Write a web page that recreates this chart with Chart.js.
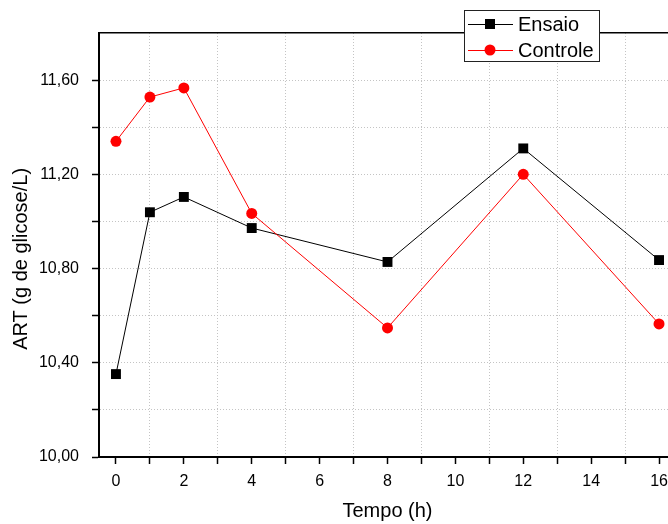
<!DOCTYPE html>
<html>
<head>
<meta charset="utf-8">
<script src="https://cdn.jsdelivr.net/npm/chart.js@4.4.0/dist/chart.umd.min.js"></script>
<style>
  html, body { margin: 0; padding: 0; background: #fff; overflow: hidden; }
  #wrap { position: absolute; left: 0; top: 0; width: 700px; height: 524px; }
</style>
</head>
<body>
<div id="wrap"><canvas id="grafico" width="700" height="524"></canvas></div>
<script>
// dados
const tempos = [0, 1, 2, 4, 8, 12, 16];
const ensaio = [10.352, 11.039, 11.104, 10.972, 10.828, 11.310, 10.836];
const controle = [11.340, 11.528, 11.567, 11.034, 10.548, 11.200, 10.565];
const nomes = ["Ensaio", "Controle"];
const ticksX = [0, 1, 2, 3, 4, 5, 6, 7, 8, 9, 10, 11, 12, 13, 14, 15, 16];

const fonte = "Arial, 'Liberation Sans', sans-serif";
const corGrade = "#c4c4c4";

function pontos(valores) {
  return tempos.map((t, i) => ({ x: t, y: valores[i] }));
}

// legenda no estilo do Origin (linha + marcador)
const legendaOrigin = {
  id: "legendaOrigin",
  afterDraw(chart) {
    const ctx = chart.ctx;
    const x0 = 464, y0 = 10, w = 135, h = 51;
    ctx.save();
    ctx.fillStyle = "#fff";
    ctx.fillRect(x0, y0, w, h);
    ctx.strokeStyle = "#222";
    ctx.lineWidth = 1;
    ctx.strokeRect(x0 + 0.5, y0 + 0.5, w, h);

    let ordem = [chart.data.datasets[1], chart.data.datasets[0]];
    ordem.forEach((ds, i) => {
      let y = y0 + 14 + i * 26;
      ctx.strokeStyle = ds.borderColor;
      ctx.lineWidth = 1;
      ctx.beginPath();
      ctx.moveTo(x0 + 4, y + 0.5);
      ctx.lineTo(x0 + 49, y + 0.5);
      ctx.stroke();
      ctx.fillStyle = ds.borderColor;
      if (ds.pointStyle === "rect") {
        ctx.fillRect(x0 + 21, y - 5, 10, 10);
      } else {
        ctx.beginPath();
        ctx.arc(x0 + 26, y, 5.5, 0, Math.PI * 2);
        ctx.fill();
      }
      ctx.fillStyle = "#000";
      ctx.font = "20px " + fonte;
      ctx.textBaseline = "middle";
      ctx.fillText(ds.label, x0 + 54, y + 1);
    });
    ctx.restore();
  },
};

const ctx = document.getElementById("grafico").getContext("2d");

new Chart(ctx, {
  type: "scatter",
  data: {
    datasets: [
      {
        label: nomes[1],
        data: pontos(controle),
        showLine: true,
        borderColor: "#ff0000",
        backgroundColor: "#ff0000",
        borderWidth: 1,
        pointStyle: "circle",
        pointRadius: 5.5,
        pointHoverRadius: 5.5,
        pointBorderWidth: 0,
        order: 0,
      },
      {
        label: nomes[0],
        data: pontos(ensaio),
        showLine: true,
        borderColor: "#000000",
        backgroundColor: "#000000",
        borderWidth: 1,
        pointStyle: "rect",
        pointRadius: 7,
        pointHoverRadius: 7,
        pointBorderWidth: 0,
        order: 1,
      },
    ],
  },
  options: {
    responsive: false,
    animation: false,
    devicePixelRatio: 1,
    layout: { padding: { left: 0, right: 24, top: 0, bottom: 0 } },
    plugins: {
      legend: { display: false },
      tooltip: { enabled: false },
    },
    scales: {
      x: {
        type: "linear",
        position: "bottom",
        min: -0.5,
        max: 16.5,
        afterFit: (s) => { s.height = 67; },
        afterBuildTicks: (s) => { s.ticks = ticksX.map((v) => ({ value: v })); },
        ticks: {
          autoSkip: false,
          maxRotation: 0,
          padding: 8,
          color: "#000",
          font: { family: fonte, size: 16 },
          callback: (v) => (Math.round(v) % 2 === 0 ? String(Math.round(v)) : ""),
        },
        grid: {
          color: (c) => (c.tick && Math.round(c.tick.value) % 2 !== 0 ? corGrade : "rgba(0,0,0,0)"),
          lineWidth: 1,
          tickColor: "#000",
          tickLength: 7,
          tickWidth: 1.5,
        },
        border: { display: true, color: "#000", width: 2, dash: [1, 2] },
        title: {
          display: true,
          text: "Tempo (h)",
          color: "#000",
          font: { family: fonte, size: 20 },
          padding: { top: 0, bottom: 1 },
        },
      },
      x2: {
        type: "linear",
        axis: "x",
        position: "top",
        min: -0.5,
        max: 16.5,
        afterFit: (s) => { s.height = 33; },
        ticks: { display: false },
        grid: { drawOnChartArea: false, drawTicks: false, color: "rgba(0,0,0,0)" },
        border: { display: true, color: "#000", width: 1.5 },
      },
      y: {
        type: "linear",
        position: "left",
        min: 10,
        max: 11.8,
        afterFit: (s) => { s.width = 99; },
        ticks: {
          stepSize: 0.2,
          autoSkip: false,
          padding: 13,
          color: "#000",
          font: { family: fonte, size: 16 },
          callback: (v) => {
            let k = Math.round(v * 10);
            return k % 4 === 0 ? v.toFixed(2).replace(".", ",") : "";
          },
        },
        grid: {
          color: (c) => (c.tick && Math.round(c.tick.value * 10) < 118 ? corGrade : "rgba(0,0,0,0)"),
          lineWidth: 1,
          tickColor: (c) => (c.tick && Math.round(c.tick.value * 10) < 118 ? "#000" : "rgba(0,0,0,0)"),
          tickLength: 7,
          tickWidth: 1.5,
        },
        border: { display: true, color: "#000", width: 2, dash: [1, 2] },
        title: {
          display: true,
          text: "ART (g de glicose/L)     ",
          color: "#000",
          font: { family: fonte, size: 20 },
          padding: { top: 9, bottom: 0 },
        },
      },
    },
  },
  plugins: [legendaOrigin],
});
</script>
</body>
</html>
